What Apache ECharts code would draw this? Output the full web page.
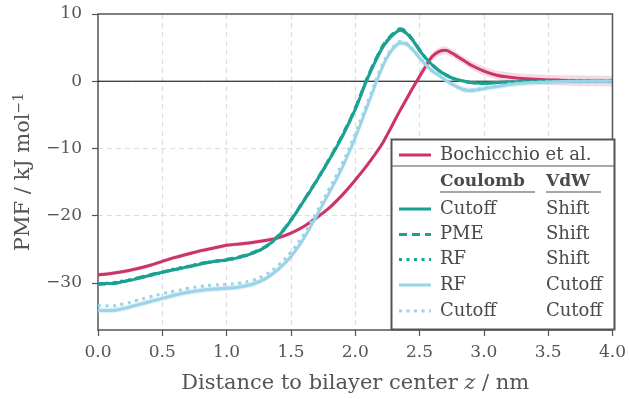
<!DOCTYPE html>
<html><head><meta charset="utf-8">
<script src="https://cdn.jsdelivr.net/npm/echarts@6/dist/echarts.min.js"></script>
<style>html,body{margin:0;padding:0;background:#fff}#c{width:629px;height:399px}</style>
</head><body><div id="c"></div>
<script>
// Distance to bilayer center z (nm)
const zValues = [0.0,0.1,0.2,0.3,0.4,0.5,0.6,0.7,0.8,0.9,1.0,1.1,1.2,1.3,1.4,1.5,1.6,1.7,1.8,1.9,2.0,2.1,2.2,
  2.25,2.3,2.35,2.4,2.45,2.5,2.55,2.6,2.65,2.7,2.75,2.8,2.85,2.9,
  3.0,3.1,3.2,3.3,3.4,3.5,3.6,3.7,3.8,3.9,4.0];

const bochicchio = [-28.8,-28.6,-28.3,-27.9,-27.4,-26.8,-26.2,-25.7,-25.2,-24.8,-24.4,-24.2,-24.0,-23.7,-23.3,-22.6,-21.6,-20.3,-18.8,-16.9,-14.7,-12.3,-9.6,
  -7.9,-6.1,-4.3,-2.6,-0.9,0.7,2.3,3.7,4.4,4.6,4.2,3.6,3.0,2.4,
  1.5,0.9,0.6,0.4,0.3,0.2,0.15,0.1,0.05,0.0,0.0];
const bochicchioErr = [0.3,0.3,0.3,0.3,0.3,0.3,0.3,0.3,0.3,0.3,0.3,0.3,0.3,0.3,0.3,0.3,0.3,0.3,0.3,0.3,0.35,0.35,0.4,
  0.4,0.45,0.45,0.5,0.5,0.55,0.55,0.6,0.6,0.6,0.6,0.6,0.6,0.6,
  0.65,0.65,0.7,0.7,0.75,0.75,0.75,0.8,0.8,0.8,0.8];

const cutoffShift = [-30.1,-30.1,-29.8,-29.4,-28.9,-28.4,-28.0,-27.6,-27.2,-26.8,-26.6,-26.2,-25.6,-24.7,-23.1,-20.7,-17.8,-14.8,-11.6,-8.2,-4.2,0.6,4.6,
  6.0,7.0,7.6,7.1,6.0,4.6,3.4,2.4,1.6,1.0,0.5,0.2,0.0,-0.2,
  -0.3,-0.2,-0.15,-0.1,-0.05,0.0,0.0,0.0,0.0,0.0,0.0];
const cutoffShiftErr = [0.25,0.25,0.25,0.25,0.25,0.25,0.25,0.25,0.25,0.25,0.25,0.25,0.25,0.25,0.25,0.25,0.25,0.25,0.25,0.25,0.25,0.25,0.25,
  0.25,0.25,0.25,0.25,0.25,0.25,0.25,0.25,0.25,0.25,0.25,0.25,0.25,0.25,
  0.25,0.25,0.25,0.25,0.25,0.25,0.25,0.25,0.25,0.25,0.25];
const pmeShift = [-30.2,-30.1,-29.8,-29.3,-28.8,-28.4,-28.0,-27.6,-27.1,-26.8,-26.5,-26.1,-25.5,-24.6,-23.0,-20.6,-17.7,-14.7,-11.5,-8.0,-4.0,0.8,4.8,
  6.2,7.2,7.8,7.3,6.1,4.7,3.4,2.4,1.6,1.0,0.5,0.2,0.0,-0.2,
  -0.3,-0.2,-0.15,-0.1,-0.05,0.0,0.0,0.0,0.0,0.0,0.0];
const rfShift = [-30.1,-30.0,-29.7,-29.3,-28.9,-28.4,-27.9,-27.5,-27.1,-26.8,-26.6,-26.2,-25.6,-24.7,-23.1,-20.7,-17.8,-14.8,-11.6,-8.1,-4.1,0.7,4.7,
  6.1,7.1,7.6,7.1,6.0,4.6,3.4,2.4,1.6,1.0,0.5,0.2,0.0,-0.2,
  -0.3,-0.2,-0.15,-0.1,-0.05,0.0,0.0,0.0,0.0,0.0,0.0];

const rfCutoff = [-34.1,-34.1,-33.8,-33.3,-32.8,-32.3,-31.8,-31.4,-31.1,-30.9,-30.8,-30.6,-30.2,-29.4,-28.0,-26.1,-23.4,-20.0,-16.5,-12.8,-8.4,-3.4,1.6,
  3.6,5.0,5.7,5.5,4.6,3.5,2.4,1.5,0.9,0.2,-0.4,-0.9,-1.3,-1.4,
  -1.1,-0.8,-0.5,-0.3,-0.2,-0.1,-0.05,0.0,0.0,0.0,0.0];
const rfCutoffErr = [0.4,0.4,0.4,0.4,0.4,0.4,0.4,0.4,0.4,0.4,0.4,0.4,0.4,0.4,0.4,0.4,0.4,0.4,0.4,0.4,0.4,0.4,0.4,
  0.4,0.4,0.4,0.4,0.4,0.4,0.4,0.4,0.4,0.4,0.4,0.4,0.4,0.4,
  0.4,0.4,0.4,0.4,0.4,0.4,0.4,0.4,0.4,0.4,0.4];
const cutoffCutoff = [-33.4,-33.4,-33.1,-32.6,-32.1,-31.6,-31.2,-30.8,-30.5,-30.3,-30.2,-30.0,-29.6,-28.8,-27.4,-25.4,-22.8,-19.4,-15.9,-12.2,-7.8,-2.9,2.0,
  3.9,5.2,5.9,5.6,4.7,3.6,2.5,1.5,0.9,0.2,-0.4,-0.9,-1.2,-1.3,
  -1.0,-0.7,-0.4,-0.25,-0.15,-0.1,-0.05,0.0,0.0,0.0,0.0];

const xTicks = [0.0,0.5,1.0,1.5,2.0,2.5,3.0,3.5,4.0];
const yTicks = [-30,-20,-10,0,10];
const xRange = [0, 4];
const yRange = [-37, 10];

const MAG = '#cc3366', TEAL = '#1aa192', LBLUE = '#9bd3e8';
const FONT = 'DejaVu Serif';
const TXT = '#555555';
const LEG = '#4a4a4a';

function pts(vals){ return zValues.map((z,i)=>[z, vals[i]]); }
function band(vals, err, color){
  return {
    type:'custom', silent:true, z:1, clip:true,
    renderItem(params, api){
      if(params.dataIndex !== 0) return;
      const up = zValues.map((z,i)=>api.coord([z, vals[i]+err[i]]));
      const dn = zValues.map((z,i)=>api.coord([z, vals[i]-err[i]])).reverse();
      return {type:'polygon', shape:{points: up.concat(dn)}, style:{fill: color}};
    },
    data: pts(vals)
  };
}
function line(name, vals, color, type, width, zz){
  return {
    type:'line', name, data: pts(vals), showSymbol:false, smooth:0.4,
    silent:true, z: zz, clip:true,
    lineStyle:{color, width: width||3, type: type||'solid', cap:'butt'}
  };
}

const chart = echarts.init(document.getElementById('c'), null, {renderer:'canvas'});
const minus = v => String(v).replace('-', '\u2212');

const LF = '18px "DejaVu Serif"';
const legendRows = [
  {y:209,   c1:'Cutoff', c2:'Shift',  color:TEAL,  type:'solid'},
  {y:234.5, c1:'PME',    c2:'Shift',  color:TEAL,  type:[8,5]},
  {y:259.5, c1:'RF',     c2:'Shift',  color:TEAL,  type:[3,4.5]},
  {y:285,   c1:'RF',     c2:'Cutoff', color:LBLUE, type:'solid'},
  {y:311,   c1:'Cutoff', c2:'Cutoff', color:LBLUE, type:[3,4.5]}
];
const legendEls = [
  {type:'rect', shape:{x:391.5, y:139.5, width:223, height:190}, style:{fill:'#fff', stroke:'#555', lineWidth:2}, z:100},
  {type:'line', shape:{x1:391.5, y1:166, x2:614.5, y2:166}, style:{stroke:'#555', lineWidth:1.2}, z:101},
  {type:'line', shape:{x1:399, y1:155, x2:431, y2:155}, style:{stroke:MAG, lineWidth:3}, z:101},
  {type:'text', x:440, y:155, style:{text:'Bochicchio et al.', font:LF, fill:LEG, verticalAlign:'middle'}, z:101},
  {type:'text', x:440, y:182, style:{text:'Coulomb', font:'bold 17px "DejaVu Serif"', fill:LEG, verticalAlign:'middle'}, z:101},
  {type:'text', x:546, y:182, style:{text:'VdW', font:'bold 17px "DejaVu Serif"', fill:LEG, verticalAlign:'middle'}, z:101},
  {type:'line', shape:{x1:440, y1:192, x2:535, y2:192}, style:{stroke:LEG, lineWidth:1}, z:101},
  {type:'line', shape:{x1:546, y1:192, x2:601, y2:192}, style:{stroke:LEG, lineWidth:1}, z:101}
];
legendRows.forEach(r=>{
  legendEls.push({type:'line', shape:{x1:399, y1:r.y, x2:431, y2:r.y}, style:{stroke:r.color, lineWidth:3, lineDash: r.type==='solid'?null:r.type}, z:101});
  legendEls.push({type:'text', x:440, y:r.y, style:{text:r.c1, font:LF, fill:LEG, verticalAlign:'middle'}, z:101});
  legendEls.push({type:'text', x:546, y:r.y, style:{text:r.c2, font:LF, fill:LEG, verticalAlign:'middle'}, z:101});
});

chart.setOption({
  animation:false,
  backgroundColor:'#fff',
  grid:{left:98, right:14, top:14, bottom:67, show:false, containLabel:false},
  xAxis:{
    type:'value', min:xRange[0], max:xRange[1], interval:0.5,
    name:'Distance to bilayer center {i|z} / nm', nameLocation:'middle', nameGap:43,
    nameTextStyle:{fontFamily:FONT, fontSize:21, color:TXT, rich:{i:{fontFamily:FONT, fontStyle:'italic', fontSize:21, color:TXT}}},
    axisLine:{show:true, onZero:false, lineStyle:{color:'#555', width:1.5}},
    axisTick:{show:true, inside:false, length:6, lineStyle:{color:'#555', width:1.2}},
    axisLabel:{fontFamily:FONT, fontSize:17, color:TXT, margin:14, formatter:v=>v.toFixed(1)},
    splitLine:{show:true, showMinLine:false, showMaxLine:false, lineStyle:{color:'#dcdce2', width:1.2, type:[5,4]}}
  },
  yAxis:{
    type:'value', min:yRange[0], max:yRange[1],
    name:'PMF / kJ mol{s|\u22121}', nameLocation:'middle', nameGap:62, nameRotate:90,
    nameTextStyle:{fontFamily:FONT, fontSize:21, color:TXT, rich:{s:{fontFamily:FONT, fontSize:14, color:TXT, verticalAlign:'top', padding:[0,0,10,0]}}},
    axisLine:{show:true, onZero:false, lineStyle:{color:'#555', width:1.5}},
    axisTick:{show:true, inside:false, length:6, customValues:yTicks, lineStyle:{color:'#555', width:1.2}},
    axisLabel:{fontFamily:FONT, fontSize:17, color:TXT, margin:16, customValues:yTicks, formatter:v=>minus(v)},
    splitLine:{show:true, showMinLine:false, showMaxLine:false, lineStyle:{color:'#dcdce2', width:1.2, type:[5,4]}}
  },
  series:[
    {type:'line', data:[[xRange[0],0],[xRange[1],0]], showSymbol:false, silent:true, z:2, lineStyle:{color:'#000', width:1}},
    band(bochicchio, bochicchioErr, 'rgba(204,51,102,0.18)'),
    band(cutoffShift, cutoffShiftErr, 'rgba(26,161,146,0.15)'),
    band(rfCutoff, rfCutoffErr, 'rgba(155,211,232,0.35)'),
    line('Bochicchio et al.', bochicchio, MAG, 'solid', 3, 3),
    line('Cutoff/Shift', cutoffShift, TEAL, 'solid', 3, 4),
    line('PME/Shift', pmeShift, TEAL, [8,5], 3, 5),
    line('RF/Shift', rfShift, TEAL, [3,4.5], 3, 6),
    line('RF/Cutoff', rfCutoff, LBLUE, 'solid', 3, 7),
    line('Cutoff/Cutoff', cutoffCutoff, LBLUE, [3,4.5], 3, 8)
  ]
});

// plot frame (top/right edges) placed through the axes' own scales
const pMin = chart.convertToPixel({gridIndex:0}, [xRange[0], yRange[0]]);
const pMax = chart.convertToPixel({gridIndex:0}, [xRange[1], yRange[1]]);
const frame = {type:'polyline', shape:{points:[[pMin[0], pMax[1]], [pMax[0], pMax[1]], [pMax[0], pMin[1]]]},
  style:{stroke:'#555', lineWidth:1.5, fill:null}, z:50};
chart.setOption({graphic:{elements:[frame].concat(legendEls)}});
</script></body></html>
